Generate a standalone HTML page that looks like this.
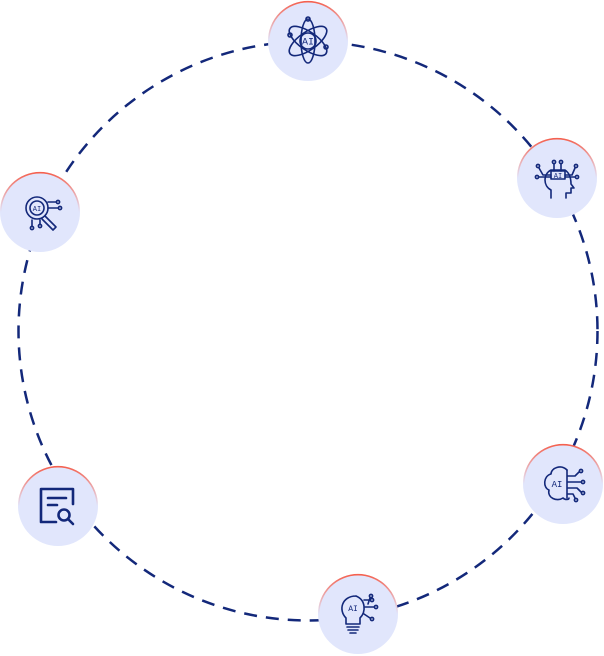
<!DOCTYPE html>
<html><head><style>html,body{margin:0;padding:0;background:#fff;}svg{display:block}</style></head>
<body>
<svg width="604" height="656" viewBox="0 0 604 656" xmlns="http://www.w3.org/2000/svg">
<defs>
<linearGradient id="rg" x1="0" y1="0" x2="0" y2="1">
<stop offset="0" stop-color="#f5614f"/>
<stop offset="0.35" stop-color="#f5614f" stop-opacity="0.3"/>
<stop offset="0.5" stop-color="#f5614f" stop-opacity="0"/>
</linearGradient>
<g id="b">
<circle r="40" fill="#e1e6fc" stroke="none"/>
<circle r="39.3" fill="none" stroke="url(#rg)" stroke-width="1.6"/>
</g>
</defs>
<circle cx="308" cy="331" r="289.5" fill="none" stroke="#13287a" stroke-width="2.5" stroke-dasharray="13 9"/>
<use href="#b" x="308" y="41"/>
<use href="#b" x="557" y="178"/>
<use href="#b" x="40" y="212"/>
<use href="#b" x="563" y="484"/>
<use href="#b" x="58" y="506"/>
<use href="#b" x="358" y="614"/>
<g fill="none" stroke="#13287a" stroke-width="1.6" stroke-linecap="round" stroke-linejoin="round" font-family="Liberation Mono, monospace">
<g transform="translate(308,41)">
<ellipse rx="22" ry="9" transform="rotate(35)"/>
<ellipse rx="22" ry="9" transform="rotate(-35)"/>
<ellipse rx="7" ry="22"/>
<circle r="8"/>
<circle cx="-18" cy="-6" r="2"/><circle cx="18" cy="6" r="2"/><circle cx="0" cy="-22" r="2"/>
<text x="0" y="3.5" font-size="10" fill="#13287a" stroke="none" text-anchor="middle">AI</text>
</g>
<g transform="translate(557,178)">
<path d="M-6 20 V12 C-14 8 -14 -4 -6 -8 H8 C14 -4 14 4 14 6 L17 10 H14 V15 H9 V20"/>
<rect x="-6" y="-7" width="14" height="8"/>
<text x="1" y="0" font-size="7" fill="#13287a" stroke="none" text-anchor="middle">AI</text>
<path d="M-3 -7 V-14 M4 -7 V-14 M-6 -3 H-14 L-18 -10 M8 -3 H15 L18 -10 M-6 -1 H-18 M8 -1 H18"/>
<circle cx="-3" cy="-16" r="1.6"/><circle cx="4" cy="-16" r="1.6"/><circle cx="-19" cy="-12" r="1.6"/><circle cx="19" cy="-12" r="1.6"/><circle cx="-20" cy="-1" r="1.6"/><circle cx="20" cy="-1" r="1.6"/>
</g>
<g transform="translate(40,212)">
<circle cx="-3" cy="-4" r="11"/>
<circle cx="-3" cy="-4" r="7"/>
<text x="-3" y="-1" font-size="7" fill="#13287a" stroke="none" text-anchor="middle">AI</text>
<path d="M5 4 L16 15 L13 18 L2 7 M8 -10 H16 M8 -4 H18 M-8 8 V14 M0 8 V12"/>
<circle cx="18" cy="-10" r="1.6"/><circle cx="20" cy="-4" r="1.6"/><circle cx="-8" cy="16" r="1.6"/><circle cx="0" cy="14" r="1.6"/>
</g>
<g transform="translate(563,484)">
<path d="M4 -14 C-2 -20 -12 -16 -12 -10 C-20 -8 -20 4 -14 6 C-16 14 -6 18 0 14 C2 16 6 16 6 14"/>
<text x="-6" y="3" font-size="9" fill="#13287a" stroke="none" text-anchor="middle">AI</text>
<path d="M4 -14 V14 M4 -8 H12 L16 -12 M4 -2 H18 M4 4 H14 L18 8 M4 10 H10 L12 14"/>
<circle cx="18" cy="-13" r="1.6"/><circle cx="20" cy="-2" r="1.6"/><circle cx="20" cy="9" r="1.6"/><circle cx="13" cy="16" r="1.6"/>
</g>
<g transform="translate(58,506)" stroke-width="2.6">
<path d="M-2 16 H-17 V-17 H15 V-2"/>
<path d="M-10 -8 H8 M-10 -1 H-1"/>
<circle cx="6" cy="9" r="5.5"/>
<path d="M10 13 L15 18"/>
</g>
<g transform="translate(358,614)">
<path d="M-2 -18 C-16 -18 -20 -4 -12 4 V10 H2 V4 C8 -2 8 -14 -2 -18"/>
<text x="-5" y="-3" font-size="8" fill="#13287a" stroke="none" text-anchor="middle">AI</text>
<path d="M-11 13 H1 M-10 16 H0 M-8 19 H-2 M6 -14 L12 -14 M7 -7 H16 M6 0 L12 4 M10 -10 L12 -16"/>
<circle cx="14" cy="-14" r="1.6"/><circle cx="18" cy="-7" r="1.6"/><circle cx="14" cy="5" r="1.6"/><circle cx="13" cy="-18" r="1.6"/>
</g>
</g>
</svg>
</body></html>
